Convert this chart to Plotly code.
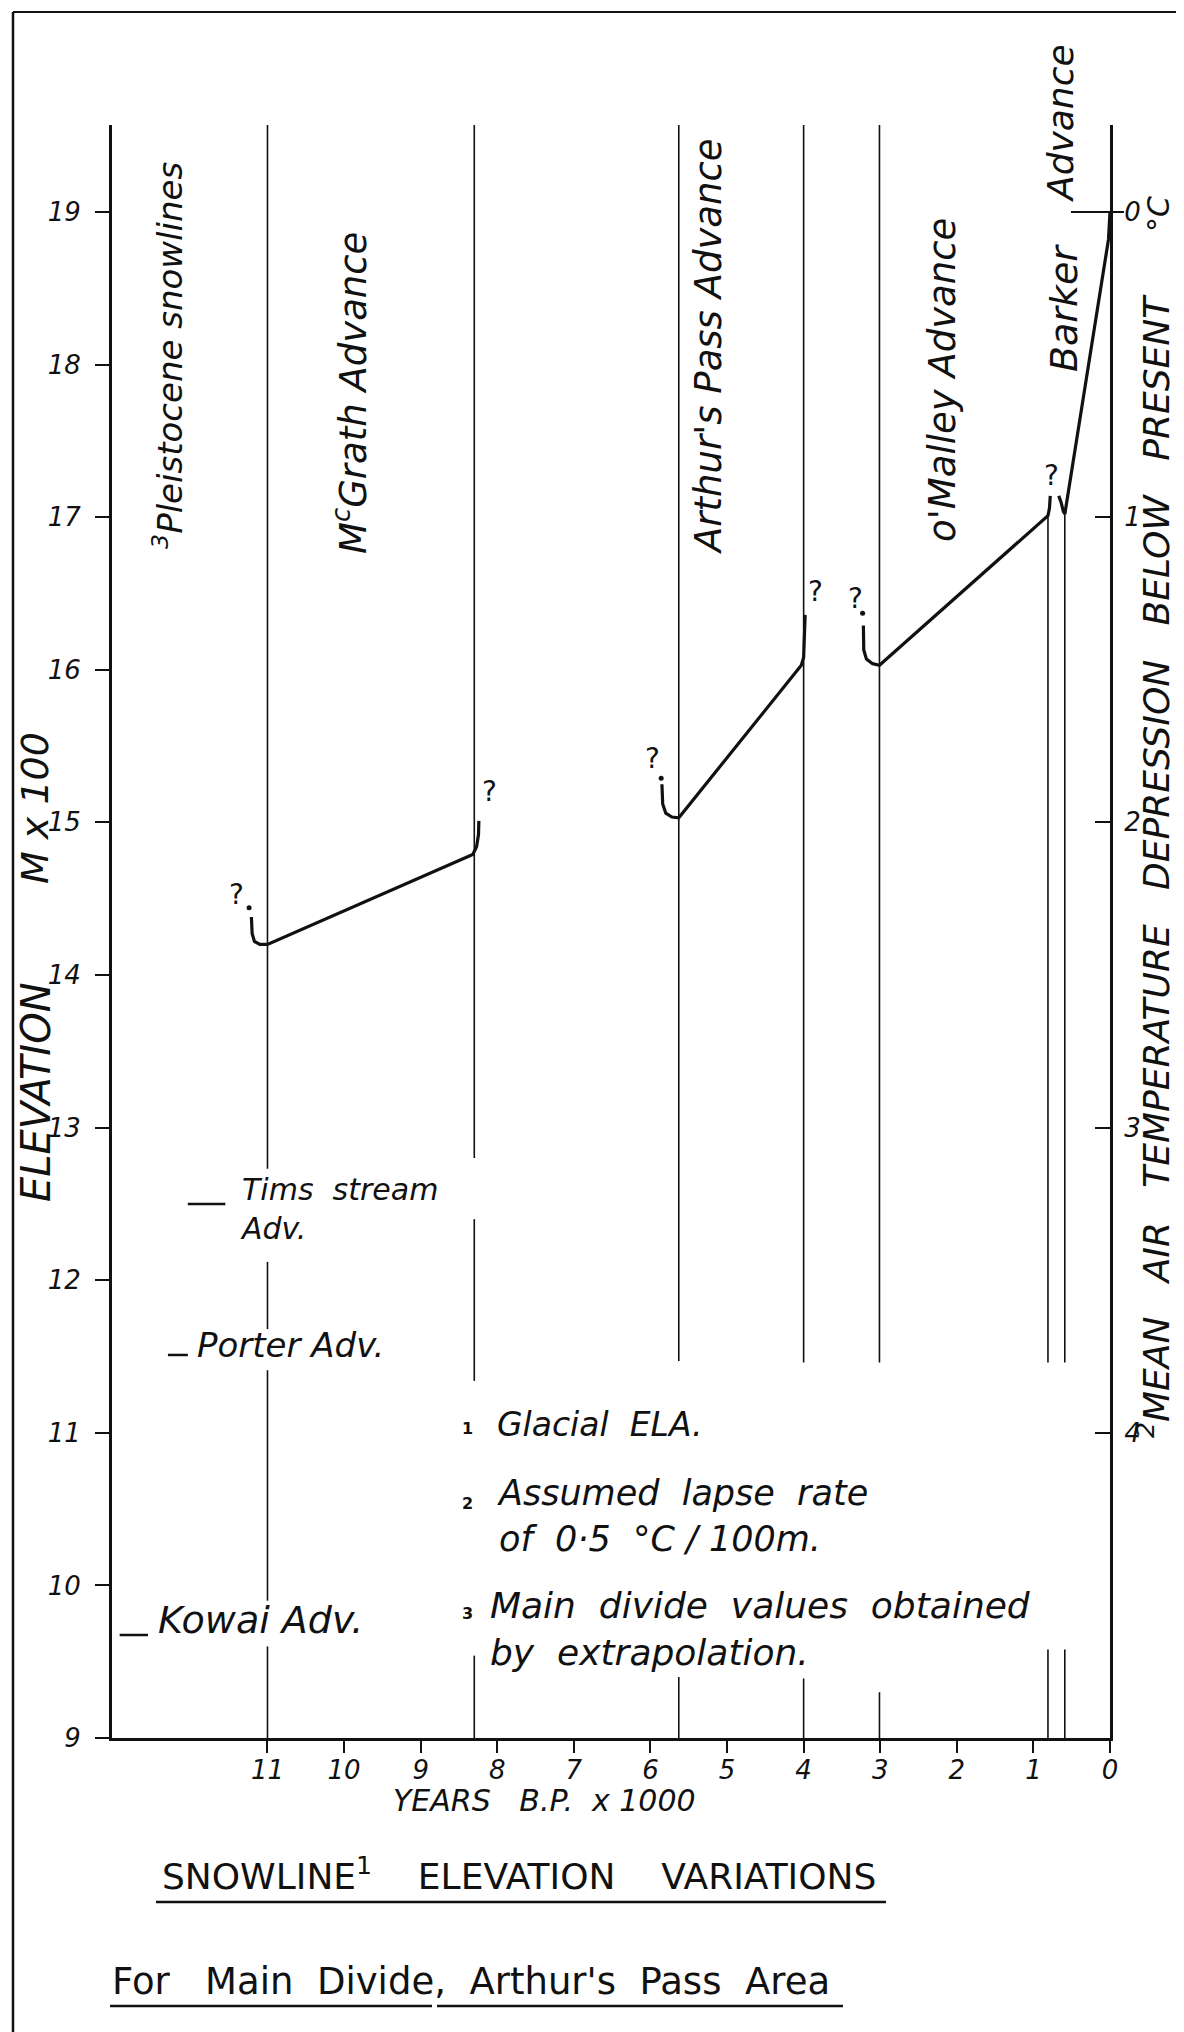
import plotly.graph_objects as go

# ---------------- data ----------------
# snowline (glacial ELA) curves, x = years B.P. x 1000, y = elevation m x 100
mcgrath_x = [11.21, 11.20, 11.17, 11.10, 11.0, 8.32, 8.27, 8.245, 8.24]
mcgrath_y = [14.38, 14.27, 14.22, 14.20, 14.20, 14.79, 14.84, 14.92, 15.01]
arthurs_x = [5.85, 5.84, 5.80, 5.72, 5.63, 4.03, 4.00, 3.99, 3.98]
arthurs_y = [15.25, 15.12, 15.06, 15.035, 15.03, 16.03, 16.08, 16.20, 16.36]
omalley_x = [3.22, 3.215, 3.18, 3.10, 3.01, 0.81, 0.79, 0.785, 0.78]
omalley_y = [16.29, 16.13, 16.07, 16.04, 16.03, 17.01, 17.06, 17.10, 17.14]
barker_x = [0.67, 0.64, 0.61, 0.59, 0.02, 0.0]
barker_y = [17.14, 17.10, 17.04, 17.02, 18.82, 19.0]

# question marks and their dots
query_x = [11.41, 8.10, 5.97, 3.85, 3.32, 0.77]
query_y = [14.53, 15.20, 15.42, 16.51, 16.47, 17.27]
dot_x = [11.24, 5.86, 3.23]
dot_y = [14.44, 15.29, 16.37]

# advance boundaries (years B.P. x 1000) and drawn elevation ranges
boundary_x = [11.0, 8.3, 5.63, 4.0, 3.01, 0.81, 0.59]
boundary_segments = [
    [(19.57, 12.73), (12.12, 11.68), (11.41, 9.90), (9.60, 9.0)],
    [(19.57, 12.80), (12.40, 11.34), (9.54, 9.0)],
    [(19.57, 11.47), (9.40, 9.0)],
    [(19.57, 11.46), (9.39, 9.0)],
    [(19.57, 11.46), (9.30, 9.0)],
    [(17.01, 11.46), (9.58, 9.0)],
    [(17.02, 11.46), (9.58, 9.0)],
]

# older (Pleistocene) advances: snowline elevation marks
old_names = ["Tims  stream<br>Adv.", "Porter Adv.", "Kowai Adv."]
old_elev = [12.50, 11.51, 9.675]
old_dash_x0 = [12.04, 12.30, 12.93]
old_dash_x1 = [11.55, 12.04, 12.56]

# axes
x_ticks = list(range(0, 12))
elev_ticks = list(range(9, 20))
temp_ticks = [0, 1, 2, 3, 4]
X_RANGE = [13.03, 0]
Y_RANGE = [9, 19.57]
LAPSE = 0.5  # deg C per 100 m
Y2_RANGE = [(19 - Y_RANGE[0]) * LAPSE, (19 - Y_RANGE[1]) * LAPSE]

# ---------------- layout geometry ----------------
WIDTH, HEIGHT = 1184, 2032
L, R_PX, B = 104, 1102, 1730
PX_PER_UNIT = 152.6
T = int(round(B - (Y_RANGE[1] - Y_RANGE[0]) * PX_PER_UNIT))
W, H = R_PX - L, B - T
FONT = "DejaVu Sans"
INK = "#111111"


def xp(px):
    return (px - L) / W


def yp(py):
    return (B - py) / H


fig = go.Figure()

# boundary lines
bx, by = [], []
for xv, segs in zip(boundary_x, boundary_segments):
    for y0, y1 in segs:
        bx += [xv, xv, None]
        by += [y0, y1, None]
fig.add_trace(go.Scatter(x=bx, y=by, mode="lines", line=dict(color=INK, width=1.6),
                         hoverinfo="skip", showlegend=False, cliponaxis=False))

# snowline curves
for xs, ys in [(mcgrath_x, mcgrath_y), (arthurs_x, arthurs_y),
               (omalley_x, omalley_y), (barker_x, barker_y)]:
    fig.add_trace(go.Scatter(x=xs, y=ys, mode="lines",
                             line=dict(color=INK, width=3.2),
                             hoverinfo="skip", showlegend=False))

fig.add_trace(go.Scatter(x=dot_x, y=dot_y, mode="markers",
                         marker=dict(color=INK, size=5),
                         hoverinfo="skip", showlegend=False))

# older-advance dashes
ox, oy = [], []
for x0, x1, e in zip(old_dash_x0, old_dash_x1, old_elev):
    ox += [x0, x1, None]
    oy += [e, e, None]
fig.add_trace(go.Scatter(x=ox, y=oy, mode="lines", line=dict(color=INK, width=2.5),
                         hoverinfo="skip", showlegend=False))

# dummy trace on the temperature axis
fig.add_trace(go.Scatter(x=[None], y=[None], yaxis="y2", showlegend=False))


def font(size, italic=True, weight="normal", family=FONT):
    return dict(family=family, size=size, color=INK,
                style="italic" if italic else "normal", weight=weight)


anns = []


def ann(text, px, py, size, angle=0, xanchor="center", yanchor="middle",
        italic=True, weight="normal", family=FONT, align="left"):
    anns.append(dict(text=text, x=xp(px), y=yp(py), xref="paper", yref="paper",
                     showarrow=False, textangle=angle, xanchor=xanchor,
                     yanchor=yanchor, align=align,
                     font=font(size, italic, weight, family)))


# question marks in data coordinates
for qx, qy in zip(query_x, query_y):
    anns.append(dict(text="?", x=qx, y=qy, xref="x", yref="y", showarrow=False,
                     font=font(28, italic=False, weight="normal")))

# event labels (rotated)
ann("<sup>3</sup>Pleistocene snowlines", 160, 348, 34, angle=-90)
ann("M<sup>c</sup>Grath Advance", 343, 385, 37, angle=-90)
ann("Arthur's Pass Advance", 701, 338, 37, angle=-90)
ann("o'Malley Advance", 935, 372, 37, angle=-90)
ann("Barker", 1056, 300, 38, angle=-90)
ann("Advance", 1052, 115, 36, angle=-90)

# axis titles
ann("ELEVATION", 28, 1084, 40, angle=-90)
ann("M x 100", 27, 800, 38, angle=-90)
ann("<sup>2</sup>MEAN   AIR   TEMPERATURE   DEPRESSION   BELOW   PRESENT",
    1146, 858, 36, angle=-90)
ann("°C", 1150, 206, 30, angle=-90)
ann("YEARS   B.P.  x 1000", 536, 1792, 30)

# older advances text
ann(old_names[0], 230, 1201, 30, xanchor="left")
ann(old_names[1], 187, 1337, 34, xanchor="left")
ann(old_names[2], 148, 1612, 38, xanchor="left")

# footnotes
ann("1", 459, 1420, 16, italic=False, weight="bold")
ann("Glacial  ELA.", 487, 1416, 33, xanchor="left")
ann("2", 459, 1495, 16, italic=False, weight="bold")
ann("Assumed  lapse  rate<br>of  0·5  °C / 100m.", 487, 1508, 35, xanchor="left")
ann("3", 459, 1605, 16, italic=False, weight="bold")
ann("Main  divide  values  obtained<br>by  extrapolation.", 480, 1621, 36,
    xanchor="left")

# titles
ann("SNOWLINE<sup>1</sup>    ELEVATION    VARIATIONS", 152, 1866, 36,
    xanchor="left", italic=False)
ann("For   Main  Divide,  Arthur's  Pass  Area", 102, 1973, 37,
    xanchor="left", italic=False)

shapes = []


def pline(x0, y0, x1, y1, w=2.0):
    shapes.append(dict(type="line", xref="paper", yref="paper",
                       x0=xp(x0), y0=yp(y0), x1=xp(x1), y1=yp(y1),
                       line=dict(color=INK, width=w)))


# page frame
pline(5, 4, 5, 2032, 2.5)
pline(5, 4, 1179, 4, 2.0)
pline(1179, 4, 1179, 2032, 2.5)
# underlines
pline(148, 1894, 878, 1894, 2.5)
pline(102, 1998, 424, 1998, 2.5)
pline(429, 1998, 835, 1998, 2.5)
# long "0" temperature tick
shapes.append(dict(type="line", xref="paper", yref="y", x0=xp(1063), x1=xp(1116),
                   y0=19, y1=19, line=dict(color=INK, width=2)))

tickfont = font(26)
fig.update_layout(
    width=WIDTH, height=HEIGHT,
    margin=dict(l=L, r=WIDTH - R_PX, t=T, b=HEIGHT - B),
    paper_bgcolor="white", plot_bgcolor="white",
    showlegend=False, hovermode=False,
    annotations=anns, shapes=shapes,
    xaxis=dict(range=X_RANGE, tickvals=x_ticks, ticktext=[str(v) for v in x_ticks],
               ticks="outside", ticklen=12, tickwidth=2, tickcolor=INK,
               showline=True, linewidth=3, linecolor=INK, showgrid=False,
               zeroline=False, tickfont=tickfont, automargin=False,
               ticklabelstandoff=-5, fixedrange=True),
    yaxis=dict(range=Y_RANGE, tickvals=elev_ticks, ticktext=[str(v) for v in elev_ticks],
               ticks="outside", ticklen=14, tickwidth=2, tickcolor=INK,
               showline=True, linewidth=3, linecolor=INK, showgrid=False,
               zeroline=False, tickfont=tickfont, automargin=False,
               ticklabelstandoff=9, fixedrange=True),
    yaxis2=dict(overlaying="y", side="right", anchor="x", range=Y2_RANGE,
                tickvals=temp_ticks, ticktext=[str(v) for v in temp_ticks],
                ticks="inside", ticklen=15, tickwidth=2, tickcolor=INK,
                showline=True, linewidth=3, linecolor=INK, showgrid=False,
                zeroline=False, tickfont=tickfont, automargin=False,
                ticklabelstandoff=6, fixedrange=True),
)

fig.write_html("out.html")
